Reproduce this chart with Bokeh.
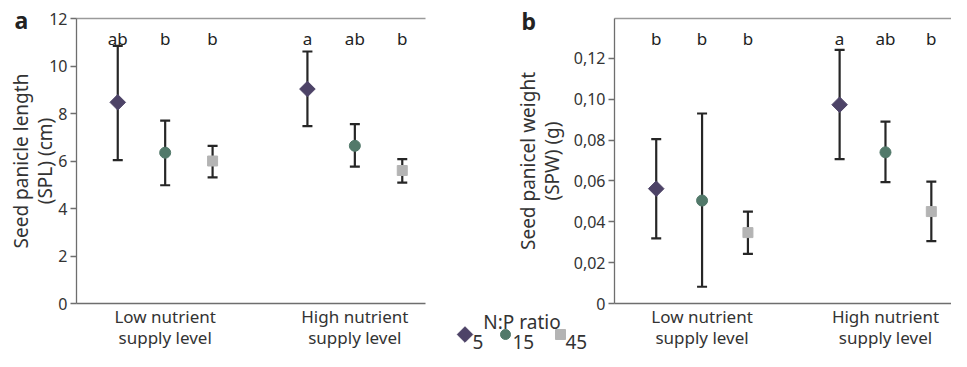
import numpy as np
from bokeh.plotting import figure
from bokeh.layouts import row
from bokeh.models import (ColumnDataSource, Whisker, TeeHead, FixedTicker, Range1d,
                          LinearAxis, GridBox)
from bokeh.core.properties import value
from bokeh.embed import file_html
from bokeh.resources import INLINE

# ---------------- data ----------------
levels = ["Low nutrient\nsupply level", "High nutrient\nsupply level"]
ratios = ["5", "15", "45"]
ratio_colors = ["#4d4367", "#52796a", "#b4b4b4"]
legend_title = "N:P ratio"

spl_mean = [8.47, 6.35, 6.00, 9.03, 6.64, 5.60]
spl_upper = [10.85, 7.70, 6.64, 10.61, 7.55, 6.08]
spl_lower = [6.04, 4.98, 5.31, 7.47, 5.76, 5.09]
spl_letters = ["ab", "b", "b", "a", "ab", "b"]

spw_mean = [0.0562, 0.0504, 0.0347, 0.0973, 0.0740, 0.0450]
spw_upper = [0.0805, 0.0930, 0.0450, 0.1241, 0.0890, 0.0597]
spw_lower = [0.0319, 0.0082, 0.0243, 0.0707, 0.0594, 0.0305]
spw_letters = ["b", "b", "b", "a", "ab", "b"]

spl_ticks = [0, 2, 4, 6, 8, 10, 12]
spw_ticks = [0, 0.02, 0.04, 0.06, 0.08, 0.10, 0.12]
spw_tick_labels = ["0", "0,02", "0,04", "0,06", "0,08", "0,10", "0,12"]

FONT = "Noto Sans"
TXT = "#333333"
AXC = "#6e6e6e"

# positions derived from category structure
xs, markers, angles, sizes, colors = [], [], [], [], []
marker_shape = {"5": ("square", np.pi / 4, 11), "15": ("circle", 0.0, 11), "45": ("square", 0.0, 10)}
for gi, lev in enumerate(levels):
    for ri, r in enumerate(ratios):
        xs.append(gi * 4 + ri + 1)
        m, a, s = marker_shape[r]
        markers.append(m); angles.append(a); sizes.append(s); colors.append(ratio_colors[ri])
group_centers = [float(np.mean(xs[g * 3:(g + 1) * 3])) for g in range(len(levels))]

H = 351


def make_panel(width, xr, yr, mean, upper, lower, letters, letter_y, ticks, tick_labels,
               ylabel, min_left, min_right, label_standoff):
    p = figure(width=width, height=H, x_range=Range1d(*xr), y_range=Range1d(*yr),
               output_backend="svg", toolbar_location=None,
               min_border_left=min_left, min_border_right=min_right,
               min_border_top=18, min_border_bottom=46)
    p.outline_line_color = None
    p.xgrid.visible = False
    p.ygrid.visible = False

    src = ColumnDataSource(dict(x=xs, mean=mean, upper=upper, lower=lower,
                                marker=markers, angle=angles, size=sizes, color=colors,
                                letter=letters, ly=[letter_y] * len(xs)))
    p.scatter(x="x", y="mean", marker="marker", angle="angle", size="size",
              fill_color="color", line_color="color", source=src)
    w = Whisker(base="x", upper="upper", lower="lower", source=src,
                line_color="#262626", line_width=2.2,
                upper_head=TeeHead(size=10, line_color="#262626", line_width=2.2),
                lower_head=TeeHead(size=10, line_color="#262626", line_width=2.2))
    p.add_layout(w)
    p.text(x="x", y="ly", text="letter", source=src, text_align="center",
           text_baseline="alphabetic", text_font=value(FONT), text_font_size="17px",
           text_color="#222222")

    # x axis (bottom)
    xa = p.below[0]
    xa.ticker = FixedTicker(ticks=group_centers)
    xa.major_label_overrides = {gc: lev for gc, lev in zip(group_centers, levels)}
    xa.major_tick_out = 0
    xa.major_tick_in = 0
    xa.minor_tick_out = 0
    xa.minor_tick_in = 0
    xa.major_label_standoff = 1
    xa.major_label_text_font = FONT
    xa.major_label_text_font_size = "17px"
    xa.major_label_text_color = TXT
    xa.major_label_text_line_height = 0.93
    xa.axis_line_color = AXC
    xa.axis_line_width = 1.3

    # y axis (left)
    ya = p.left[0]
    ya.ticker = FixedTicker(ticks=ticks)
    if tick_labels is not None:
        ya.major_label_overrides = {t: l for t, l in zip(ticks, tick_labels)}
    ya.major_tick_out = 6
    ya.major_tick_in = 0
    ya.minor_tick_out = 0
    ya.minor_tick_in = 0
    ya.major_tick_line_color = AXC
    ya.major_tick_line_width = 1.3
    ya.major_label_standoff = 3
    ya.major_label_text_font = FONT
    ya.major_label_text_font_size = "16px"
    ya.major_label_text_color = TXT
    ya.axis_line_color = AXC
    ya.axis_line_width = 1.3
    ya.axis_label = ylabel
    ya.axis_label_text_font = FONT
    ya.axis_label_text_font_size = "19px"
    ya.axis_label_text_font_style = "normal"
    ya.axis_label_text_color = TXT
    ya.axis_label_text_line_height = 0.92
    ya.axis_label_standoff = label_standoff

    # top border line only (an empty axis above the frame)
    top = LinearAxis(ticker=FixedTicker(ticks=[]), major_tick_out=0, major_tick_in=0,
                     minor_tick_out=0, minor_tick_in=0, major_label_standoff=0,
                     major_label_text_font_size="0px",
                     axis_line_color="#9a9a9a", axis_line_width=1.5)
    p.add_layout(top, "above")
    return p


pa = make_panel(440, (0.13, 7.49), (0, 12), spl_mean, spl_upper, spl_lower, spl_letters, 11.15,
                spl_ticks, None, "Seed panicle length\n(SPL) (cm)", 76, 15, -12)
pb = make_panel(511, (0.09, 7.44), (0, 0.1395), spw_mean, spw_upper, spw_lower, spw_letters, 0.1295,
                spw_ticks, spw_tick_labels, "Seed panicel weight\n(SPW) (g)", 174, 0, 6)

# ---------------- overlay: panel letters and the shared legend ----------------
OV_DY = -8  # overlay canvas sits a little lower than the panels in the grid cell
ov = figure(width=951, height=H, x_range=Range1d(0, 951), y_range=Range1d(H, 0),
            x_axis_type=None, y_axis_type=None, output_backend="svg", toolbar_location=None,
            min_border=0, min_border_left=0, min_border_right=0, min_border_top=0,
            min_border_bottom=0)
ov.title.visible = False
ov.outline_line_color = None
ov.background_fill_color = None
ov.border_fill_color = None
ov.xgrid.visible = False
ov.ygrid.visible = False

ov.text(x=[14, 521], y=[27 + OV_DY, 28 + OV_DY], text=["a", "b"], text_font=value(FONT),
        text_font_size="23px", text_font_style="bold", text_color="#222222",
        text_baseline="alphabetic", text_align="left")
ov.text(x=[521.5], y=[329 + OV_DY], text=[legend_title], text_font=value(FONT),
        text_font_size="19px", text_color=TXT, text_align="center", text_baseline="alphabetic")
leg_marker_x = [464.5, 505, 560]
leg_label_x = [472, 512, 565]
ov.scatter(x=leg_marker_x, y=[342 + OV_DY] * 3, marker=[marker_shape[r][0] for r in ratios],
           angle=[marker_shape[r][1] for r in ratios], size=[11, 10, 10],
           fill_color=ratio_colors, line_color=ratio_colors)
ov.text(x=leg_label_x, y=[349 + OV_DY] * 3, text=ratios, text_font=value(FONT),
        text_font_size="19px", text_color=TXT, text_align="left", text_baseline="alphabetic")

panels = row(pa, pb, spacing=0)
grid = GridBox(children=[(panels, 0, 0), (ov, 0, 0)])
open("out.html", "w").write(file_html(grid, INLINE))
